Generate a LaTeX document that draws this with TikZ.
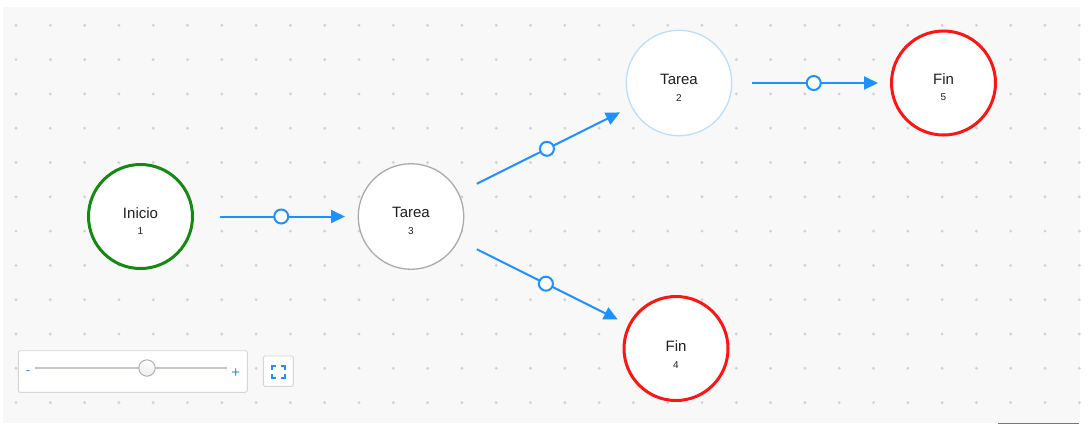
\documentclass[tikz,border=0pt]{standalone}
\usepackage{fontspec}
\setmainfont{Liberation Sans}
\usetikzlibrary{arrows.meta,calc}
\definecolor{bgc}{HTML}{F8F8F8}
\definecolor{dotc}{HTML}{D2D2D2}
\definecolor{edgec}{HTML}{1E90FF}
\definecolor{greenc}{HTML}{148A14}
\definecolor{redc}{HTML}{FF1414}
\definecolor{grayc}{HTML}{AAAAAA}
\definecolor{lblue}{HTML}{BBDEFB}
\definecolor{boxc}{HTML}{D6D6D6}
\definecolor{trackc}{HTML}{C8C4C0}
\definecolor{tealc}{HTML}{2596A8}
\tikzset{
  statenode/.style={circle, fill=white, inner sep=0pt},
  startnode/.style={statenode, draw=greenc, line width=3pt, minimum size=104pt},
  endnode/.style={statenode, draw=redc, line width=3pt, minimum size=104pt},
  tasknode/.style={statenode, draw=grayc, line width=1.3pt, minimum size=105.5pt},
  tasknodeb/.style={statenode, draw=lblue, line width=1.3pt, minimum size=105.5pt},
  lbl/.style={inner sep=0pt, font=\fontsize{15}{16}\selectfont, text=black!88},
  num/.style={inner sep=0pt, font=\fontsize{10}{11}\selectfont, text=black!88},
  flow/.style={draw=edgec, line width=2pt, -{Triangle[length=14pt,width=13pt]}},
  midc/.style={circle, fill=white, draw=edgec, line width=2pt, minimum size=14pt, inner sep=0pt},
  ctl/.style={fill=white, draw=boxc, line width=0.9pt, rounded corners=1.5pt},
}
\begin{document}
\begin{tikzpicture}[x=1pt,y=-1pt]
\useasboundingbox (0,0) rectangle (1089,424);
% background
\fill[bgc] (3,7) rectangle (1080,422.5);
\foreach \i in {0,...,31}{
  \foreach \j in {0,...,11}{
    \fill[dotc] (16+34.3*\i, 25.3+34.3*\j) circle (1.6);
  }
}
% nodes
\node[startnode] (n1) at (140.5,216.5) {};
\node[tasknode] (n3) at (411,216.5) {};
\node[tasknodeb] (n2) at (679,83) {};
\node[endnode] (n5) at (943.5,83) {};
\node[endnode] (n4) at (676,348.5) {};
% labels
\node[lbl] (t1) at ($(n1)+(0,-3.5)$) {Inicio};
\node[num] (k1) at ($(n1)+(0,15)$) {1};
\node[lbl] (t3) at ($(n3)+(0,-4)$) {Tarea};
\node[num] (k3) at ($(n3)+(0,15)$) {3};
\node[lbl] (t2) at ($(n2)+(0,-4)$) {Tarea};
\node[num] (k2) at ($(n2)+(0,15)$) {2};
\node[lbl] (t5) at ($(n5)+(0,-4)$) {Fin};
\node[num] (k5) at ($(n5)+(0,14.5)$) {5};
\node[lbl] (t4) at ($(n4)+(0,-2.5)$) {Fin};
\node[num] (k4) at ($(n4)+(0,16.5)$) {4};
% edges
\coordinate (a13) at ($(n1)!79.5pt!(n3)$);
\coordinate (b13) at ($(n3)!66pt!(n1)$);
\coordinate (a32) at ($(n3)!73.5pt!(n2)$);
\coordinate (b32) at ($(n2)!66pt!(n3)$);
\coordinate (a34) at ($(n3)!73.5pt!(n4)$);
\coordinate (b34) at ($(n4)!65pt!(n3)$);
\coordinate (a25) at ($(n2)!73pt!(n5)$);
\coordinate (b25) at ($(n5)!65.5pt!(n2)$);
\draw[flow] (a13) -- (b13);
\draw[flow] (a32) -- (b32);
\draw[flow] (a34) -- (b34);
\draw[flow] (a25) -- (b25);
\node[midc] (m13) at ($(a13)!0.49!(b13)$) {};
\node[midc] (m32) at ($(a32)!0.49!(b32)$) {};
\node[midc] (m34) at ($(a34)!0.49!(b34)$) {};
\node[midc] (m25) at ($(a25)!0.49!(b25)$) {};
% zoom control
\draw[ctl] (18.3,350.7) rectangle (247.3,392.3);
\draw[trackc, line width=2.3pt] (35,368) -- (226.7,368);
\draw[draw=grayc, line width=0.9pt, top color=white, bottom color=black!7] (147,368) circle (8.2);
\node[inner sep=0pt, text=edgec, font=\fontsize{13}{13}\selectfont] (minus) at (28,373) {-};
\node[inner sep=0pt, text=edgec, font=\fontsize{15}{15}\selectfont] (plus) at (235.7,373) {+};
% fit button
\draw[ctl] (263.3,356) rectangle (293.3,386.3);
\begin{scope}[draw=edgec, line width=2pt]
\draw (272.3,370) -- (272.3,366) -- (276.3,366);
\draw (281,366) -- (285,366) -- (285,370);
\draw (285,374.3) -- (285,378.3) -- (281,378.3);
\draw (276.3,378.3) -- (272.3,378.3) -- (272.3,374.3);
\end{scope}
% partial element at bottom right
\fill[tealc] (998,422.7) rectangle (1079,424);
\end{tikzpicture}
\end{document}
